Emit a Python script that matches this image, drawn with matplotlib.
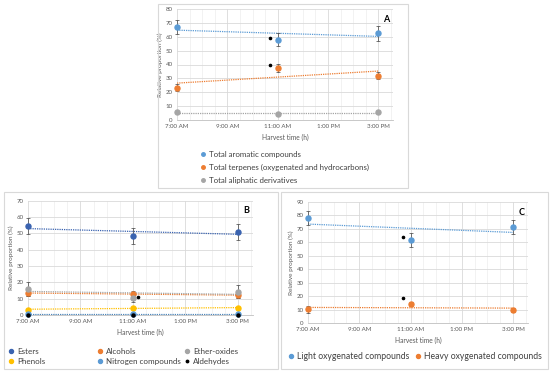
import numpy as np
import matplotlib
matplotlib.use('Agg')
import matplotlib.pyplot as plt
from matplotlib.patches import Rectangle

plt.rcParams['font.family'] = ['Lato', 'DejaVu Sans']

# harvest times (hours of day)
hours = [7, 11, 15]
tick_hours = [7, 9, 11, 13, 15]
tick_labels = ['7:00 AM', '9:00 AM', '11:00 AM', '1:00 PM', '3:00 PM']

# panel A
a_names = ['Total aromatic compounds', 'Total terpenes (oxygenated and hydrocarbons)',
           'Total aliphatic derivatives']
a_values = [[67, 58, 62.5], [23.3, 37.5, 32], [5.5, 4.5, 5.5]]
a_errors = [[5.3, 4.5, 5.4], [2.7, 2.7, 2.5], [0.5, 0.5, 0.5]]
a_sig_x = [10.7, 10.7]
a_sig_y = [59, 39.5]

# panel B
b_names = ['Esters', 'Alcohols', 'Ether-oxides', 'Phenols', 'Nitrogen compounds', 'Aldehydes']
b_values = [[54.3, 48.4, 50.8], [13.5, 12.7, 12.2], [16.1, 10.2, 14.3],
            [3.3, 4.5, 4.3], [0.5, 0.5, 0.5], [0.2, 0.2, 0.2]]
b_errors = [[4.9, 4.7, 4.7], [2, 1.8, 1.8], [4.4, 2.5, 4],
            [0.5, 0.5, 0.5], [0.3, 0.3, 0.3], [0.1, 0.1, 0.1]]
b_sig_x = [11.2]
b_sig_y = [11]

# panel C
c_names = ['Light oxygenated compounds', 'Heavy oxygenated compounds']
c_values = [[77.9, 61.8, 71.7], [10.2, 14.1, 9.7]]
c_errors = [[5.2, 5, 5.2], [2.5, 1.5, 1.5]]
c_sig_x = [10.72, 10.72]
c_sig_y = [63.8, 18.4]

blue = '#5B9BD5'
orange = '#ED7D31'
gray = '#A5A5A5'
yellow = '#FFC000'
navy = '#3A63B0'
a_colors = [blue, orange, gray]
b_colors = [navy, orange, gray, yellow, blue, 'black']
b_sizes = [3.6, 3.6, 3.6, 3.6, 3.6, 2.2]
c_colors = [blue, orange]

W, H = 550, 371
fig = plt.figure(figsize=(W / 100, H / 100), dpi=100)


def px_axes(x0, x1, ytop, ybot):
    return fig.add_axes([x0 / W, 1 - ybot / H, (x1 - x0) / W, (ybot - ytop) / H])


def box(x0, y0, x1, y1):
    fig.patches.append(Rectangle((x0 / W, 1 - y1 / H), (x1 - x0) / W, (y1 - y0) / H,
                                 transform=fig.transFigure, fill=False,
                                 edgecolor='#D9D9D9', linewidth=0.8))


def style(ax, ymax, letter):
    ax.set_xlim(7, 15.58)
    ax.set_ylim(0, ymax)
    ax.set_xticks(tick_hours)
    ax.set_xticklabels(tick_labels)
    ax.set_xticks(np.arange(7, 15.6, 0.5), minor=True)
    ax.set_yticks(np.arange(0, ymax + 1, 10))
    ax.grid(True, which='major', color='#D9D9D9', linewidth=0.6)
    ax.grid(True, which='minor', axis='x', color='#EDEDED', linewidth=0.5)
    ax.set_axisbelow(True)
    for s in ['top', 'right', 'left']:
        ax.spines[s].set_visible(False)
    ax.spines['bottom'].set_color('#BFBFBF')
    ax.spines['bottom'].set_linewidth(0.6)
    ax.tick_params(which='both', length=0, labelsize=4.4, colors='#595959', pad=3)
    ax.set_xlabel('Harvest time (h)', fontsize=4.8, color='#595959', labelpad=3)
    ax.set_ylabel('Relative proportion (%)', fontsize=4.6, color='#595959', labelpad=2)
    ax.text(0.985, 0.95, letter, transform=ax.transAxes, ha='right', va='top',
            fontsize=6.5, fontweight='bold')


def draw(ax, values, errors, colors, sig_x, sig_y, sizes=None):
    handles = []
    if sizes is None:
        sizes = [3.6] * len(values)
    for vals, errs, col, ms in zip(values, errors, colors, sizes):
        ax.errorbar(hours, vals, yerr=errs, fmt='none', ecolor='#404040',
                    elinewidth=0.5, capsize=1.6, capthick=0.5, zorder=3, clip_on=False)
        h, = ax.plot(hours, vals, 'o', color=col, markersize=ms, zorder=4, clip_on=False)
        handles.append(h)
        k, b = np.polyfit(hours, vals, 1)
        tx = np.array([7, 15])
        ax.plot(tx, k * tx + b, color=col, linewidth=0.9, linestyle=(0, (1, 0.8)), zorder=2)
    ax.plot(sig_x, sig_y, 'o', color='black', markersize=1.6, zorder=5)
    return handles


leg_kw = dict(loc='upper left', frameon=False, handlelength=0.6, handletextpad=0.4,
              borderaxespad=0, borderpad=0, labelcolor='#404040')

# Panel A
box(158, 4, 408, 188)
axA = px_axes(177, 393, 9, 120)
style(axA, 80, 'A')
hA = draw(axA, a_values, a_errors, a_colors, a_sig_x, a_sig_y)
fig.legend(hA, a_names, bbox_to_anchor=(201 / W, 1 - 151 / H), fontsize=5.7,
           markerscale=0.7, labelspacing=0.75, **leg_kw)

# Panel B
box(4, 192, 278, 369)
axB = px_axes(28, 253, 200.7, 315)
style(axB, 70, 'B')
hB = draw(axB, b_values, b_errors, b_colors, b_sig_x, b_sig_y, b_sizes)
# one legend per column: (Esters, Phenols), (Alcohols, Nitrogen), (Ether-oxides, Aldehydes)
for col, x0 in zip(range(3), [9, 98, 185]):
    idx = [col, col + 3]
    fig.legend([hB[i] for i in idx], [b_names[i] for i in idx],
               bbox_to_anchor=(x0 / W, 1 - 347.5 / H), fontsize=5.8, markerscale=0.8,
               labelspacing=0.45, **leg_kw)

# Panel C
box(281, 192, 548, 369)
axC = px_axes(308, 528, 202, 323)
style(axC, 90, 'C')
hC = draw(axC, c_values, c_errors, c_colors, c_sig_x, c_sig_y)
fig.legend(hC, c_names, bbox_to_anchor=(288 / W, 1 - 352 / H), ncol=2, fontsize=6.2,
           markerscale=0.8, columnspacing=0.7, **leg_kw)

fig.savefig('out.png', dpi=100)
